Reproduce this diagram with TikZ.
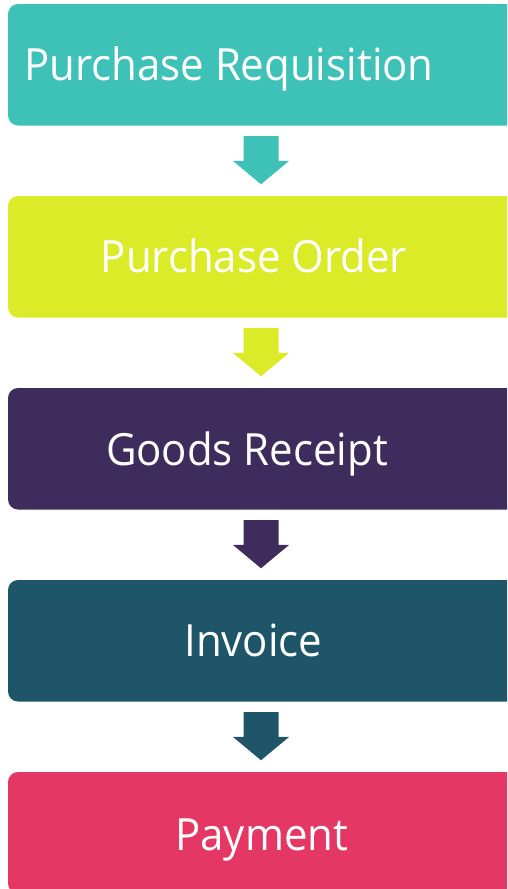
\documentclass[tikz,border=0pt]{standalone}
\usepackage{fontspec}
\setmainfont[FakeStretch=0.945]{Open Sans}
\usetikzlibrary{calc}
\definecolor{cA}{HTML}{3EC1B7}
\definecolor{cB}{HTML}{DBEB27}
\definecolor{cC}{HTML}{3D2C5C}
\definecolor{cD}{HTML}{1E5569}
\definecolor{cE}{HTML}{E43764}
\def\px{0.75pt}
\tikzset{
  stagebox/.style={rectangle, rounded corners=10*\px, minimum width=512*\px, minimum height=121.5*\px, inner sep=0pt, fill=#1},
  stagetext/.style={anchor=base, inner sep=0pt, text=white, font=\fontsize{33.3}{40}\selectfont},
}
\newcommand{\flowarrow}[2]{%
  \fill[#2, shift={(#1)}] (-17.5,-24.75) -- (17.5,-24.75) -- (17.5,0) -- (28.25,0) -- (0,23.5) -- (-28.25,0) -- (-17.5,0) -- cycle;}
\begin{document}
\begin{tikzpicture}[x=0.75pt,y=-0.75pt]
\useasboundingbox (0,0) rectangle (507,889);
\clip (0,0) rectangle (507,889);
\node[stagebox=cA] (b1) at (264,64.75) {};
\node[stagebox=cB] (b2) at (264,256.75) {};
\node[stagebox=cC] (b3) at (264,448.75) {};
\node[stagebox=cD] (b4) at (264,640.75) {};
\node[stagebox=cE] (b5) at (264,832.75) {};
\node[stagetext] (t1) at (229,80) {Purchase Requisition};
\node[stagetext] (t2) at (254,272.3) {Purchase Order};
\node[stagetext] (t3) at (247,465) {Goods Receipt};
\node[stagetext] (t4) at (253.3,656.7) {Invoice};
\node[stagetext] (t5) at (261.7,850) {Payment};
\coordinate (m1) at ($($(b1.south)!0.5!(b2.north)$)+(-3,0)$);
\coordinate (m2) at ($($(b2.south)!0.5!(b3.north)$)+(-3,0)$);
\coordinate (m3) at ($($(b3.south)!0.5!(b4.north)$)+(-3,0)$);
\coordinate (m4) at ($($(b4.south)!0.5!(b5.north)$)+(-3,0)$);
\flowarrow{m1}{cA}
\flowarrow{m2}{cB}
\flowarrow{m3}{cC}
\flowarrow{m4}{cD}
\end{tikzpicture}
\end{document}
